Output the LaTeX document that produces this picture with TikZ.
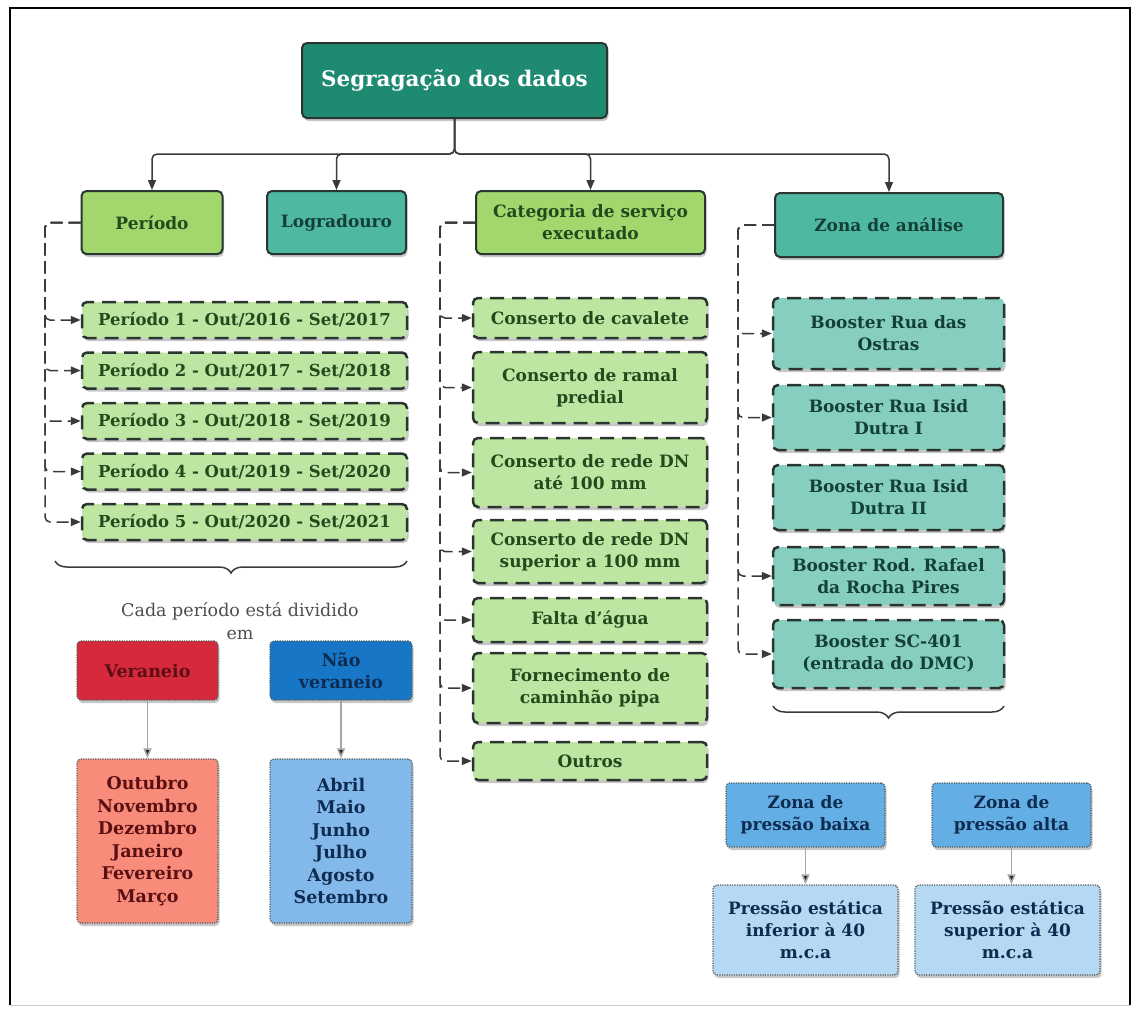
\documentclass[tikz,border=0pt]{standalone}
\usepackage{fontspec}
\setmainfont{DejaVu Serif}
\usetikzlibrary{arrows.meta,shadows,decorations.pathreplacing}

\definecolor{titlefill}{HTML}{1E8A72}
\definecolor{greenfill}{HTML}{A2D76E}
\definecolor{greenlight}{HTML}{BEE5A2}
\definecolor{greentext}{HTML}{234A1C}
\definecolor{tealfill}{HTML}{4FB8A3}
\definecolor{teallight}{HTML}{86CFC0}
\definecolor{tealtext}{HTML}{143F37}
\definecolor{boxline}{HTML}{2B3530}
\definecolor{connline}{HTML}{3A3A3A}
\definecolor{redfill}{HTML}{D6293B}
\definecolor{redlight}{HTML}{F98B7B}
\definecolor{redtext}{HTML}{5A1012}
\definecolor{bluefill}{HTML}{1777C6}
\definecolor{bluemid}{HTML}{63AEE5}
\definecolor{bluelight}{HTML}{82B9EA}
\definecolor{bluepale}{HTML}{B5D8F3}
\definecolor{bluetext}{HTML}{0F2B50}
\definecolor{notegray}{HTML}{4E4E4E}

\begin{document}
\begin{tikzpicture}[x=1pt,y=-1pt,
  base/.style={rounded corners=5pt, align=center, inner sep=0pt,
    font=\bfseries\fontsize{17}{22}\selectfont,
    drop shadow={shadow xshift=1.5pt, shadow yshift=-3pt, opacity=0.22, fill=black}},
  mainbox/.style={base, draw=boxline, line width=2pt},
  greenmain/.style={mainbox, fill=greenfill, text=greentext},
  tealmain/.style={mainbox, fill=tealfill, text=tealtext},
  itembox/.style={base, draw=boxline, line width=2.5pt, dash pattern=on 14pt off 8pt},
  greenitem/.style={itembox, fill=greenlight, text=greentext},
  tealitem/.style={itembox, fill=teallight, text=tealtext},
  dotbox/.style={base, rounded corners=4pt, draw=boxline!80, line width=1.3pt, dash pattern=on 1.2pt off 1.2pt},
  conn/.style={draw=connline, line width=1.5pt, -{Triangle[length=10pt,width=8pt]}, rounded corners=5pt},
  dashconn/.style={conn, dash pattern=on 12pt off 6pt},
  lightconn/.style={draw=gray!70, line width=1.5pt, -{Triangle[length=10pt,width=8pt,fill=black!85]}},
  bracestyle/.style={draw=connline, line width=1.5pt, decorate,
    decoration={brace, mirror, amplitude=12pt}}
]
\useasboundingbox (0,0) rectangle (1137,1010);

% outer frame
\draw[black, line width=1.5pt] (10,1005) -- (10,8) -- (1130,8) -- (1130,1005);
\draw[gray!40, line width=1pt] (10,1005) -- (1130,1005);

% title
\node[mainbox, fill=titlefill, text=white, minimum width=305pt, minimum height=75pt,
  font=\bfseries\fontsize{21.5}{26}\selectfont] (title) at (454.5,80.5) {Segragação dos dados};

% first level
\node[greenmain, minimum width=141pt, minimum height=63pt] (per) at (152,222.5) {Período};
\node[tealmain, minimum width=139pt, minimum height=63pt] (log) at (336.5,222.5) {Logradouro};
\node[greenmain, minimum width=229pt, minimum height=63pt] (cat) at (590.5,222.5) {Categoria de serviço\\executado};
\node[tealmain, minimum width=228pt, minimum height=64pt] (zon) at (889,225) {Zona de análise};

\coordinate (hub) at (454.5,154);
\draw[conn] (title.south) -- (hub) -| (per.north);
\draw[conn] (title.south) -- (hub) -| (log.north);
\draw[conn] (title.south) -- (hub) -| (cat.north);
\draw[conn] (title.south) -- (hub) -| (zon.north);

% periods
\foreach \n/\y/\a/\b in {1/320/2016/2017, 2/370.5/2017/2018, 3/421/2018/2019, 4/471.5/2019/2020, 5/522/2020/2021}
  \node[greenitem, minimum width=325pt, minimum height=36pt, font=\bfseries\fontsize{16.5}{22}\selectfont]
    (p\n) at (244.5,\y) {Período \n\ - Out/\a\ - Set/\b};
\coordinate (pbus) at (45,222.5);
\foreach \n in {1,...,5}
  \draw[dashconn] (per.west) -- (pbus) |- (p\n.west);

\draw[bracestyle] (55,561) -- (407,561);

% service categories
\node[greenitem, minimum width=234pt, minimum height=40pt] (c1) at (590,318) {Conserto de cavalete};
\node[greenitem, minimum width=234pt, minimum height=71pt] (c2) at (590,387.5) {Conserto de ramal\\predial};
\node[greenitem, minimum width=234pt, minimum height=69pt] (c3) at (590,472.5) {Conserto de rede DN\\até 100 mm};
\node[greenitem, minimum width=234pt, minimum height=63pt] (c4) at (590,551.5) {Conserto de rede DN\\superior a 100 mm};
\node[greenitem, minimum width=234pt, minimum height=44pt] (c5) at (590,620) {Falta d'água};
\node[greenitem, minimum width=234pt, minimum height=70pt] (c6) at (590,688) {Fornecimento de\\caminhão pipa};
\node[greenitem, minimum width=234pt, minimum height=38pt] (c7) at (590,761) {Outros};
\coordinate (cbus) at (440,222.5);
\foreach \n in {1,...,7}
  \draw[dashconn] (cat.west) -- (cbus) |- (c\n.west);

% analysis zones
\node[tealitem, minimum width=231pt, minimum height=71pt] (b1) at (888.5,333.5) {Booster Rua das\\Ostras};
\node[tealitem, minimum width=231pt, minimum height=65pt] (b2) at (888.5,417.5) {Booster Rua Isid\\Dutra I};
\node[tealitem, minimum width=231pt, minimum height=65pt] (b3) at (888.5,497.5) {Booster Rua Isid\\Dutra II};
\node[tealitem, minimum width=231pt, minimum height=58pt] (b4) at (888.5,576) {Booster Rod. Rafael\\da Rocha Pires};
\node[tealitem, minimum width=231pt, minimum height=68pt] (b5) at (888.5,654) {Booster SC-401\\(entrada do DMC)};
\coordinate (zbus) at (738,225);
\foreach \n in {1,2,4,5}
  \draw[dashconn] (zon.west) -- (zbus) |- (b\n.west);

\draw[bracestyle] (773,706) -- (1004,706);

% seasons
\node[align=center, text=notegray, font=\fontsize{17.5}{22.5}\selectfont] (note) at (240,621) {Cada período está dividido\\em};
\node[dotbox, fill=redfill, text=redtext, minimum width=141pt, minimum height=59pt,
  font=\bfseries\fontsize{17.5}{22}\selectfont] (ver) at (147.5,670.5) {Veraneio};
\node[dotbox, fill=bluefill, text=bluetext, minimum width=142pt, minimum height=59pt,
  font=\bfseries\fontsize{17.5}{22}\selectfont] (nver) at (341,670.5) {Não\\veraneio};
\node[dotbox, fill=redlight, text=redtext, minimum width=141pt, minimum height=164pt,
  font=\bfseries\fontsize{17.5}{22.5}\selectfont] (mred) at (147.5,841) {Outubro\\Novembro\\Dezembro\\Janeiro\\Fevereiro\\Março};
\node[dotbox, fill=bluelight, text=bluetext, minimum width=142pt, minimum height=164pt,
  font=\bfseries\fontsize{17.5}{22.5}\selectfont] (mblue) at (341,841) {Abril\\Maio\\Junho\\Julho\\Agosto\\Setembro};
\draw[lightconn] (ver.south) -- (mred.north);
\draw[lightconn] (nver.south) -- (mblue.north);

% pressure zones
\node[dotbox, fill=bluemid, text=bluetext, minimum width=159pt, minimum height=64pt] (zb) at (805.5,815) {Zona de\\pressão baixa};
\node[dotbox, fill=bluemid, text=bluetext, minimum width=159pt, minimum height=64pt] (za) at (1011.5,815) {Zona de\\pressão alta};
\node[dotbox, fill=bluepale, text=bluetext, minimum width=185pt, minimum height=90pt] (pi) at (805.5,930) {Pressão estática\\inferior à 40\\m.c.a};
\node[dotbox, fill=bluepale, text=bluetext, minimum width=185pt, minimum height=90pt] (ps) at (1007.5,930) {Pressão estática\\superior à 40\\m.c.a};
\draw[lightconn] (zb.south) -- (pi.north);
\draw[lightconn] (za.south) -- (za.south |- ps.north);

\end{tikzpicture}
\end{document}
